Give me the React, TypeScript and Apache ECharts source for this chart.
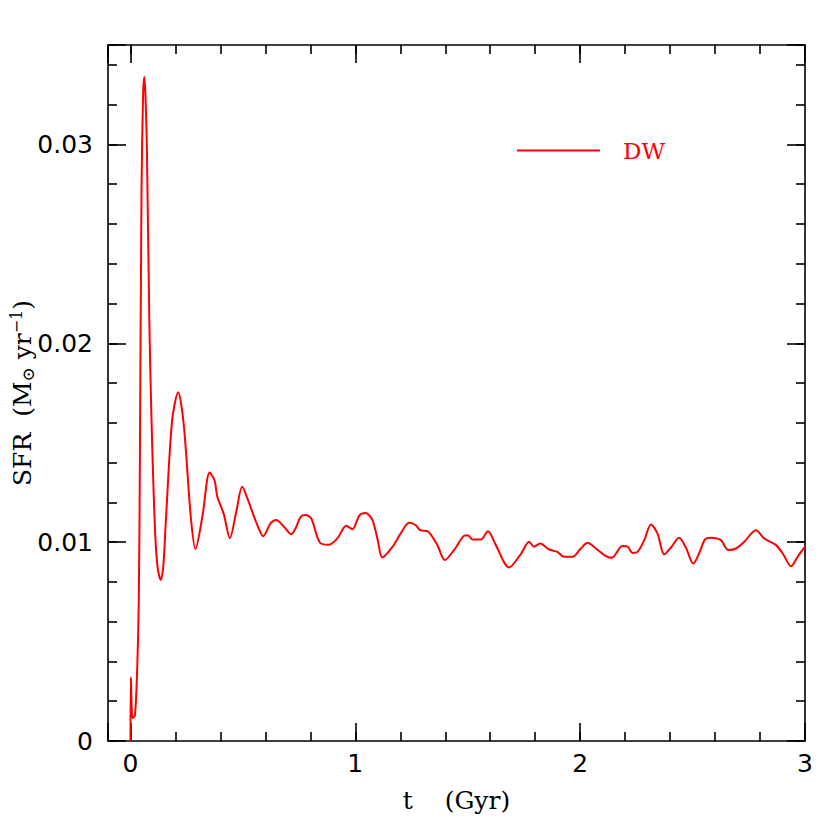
import React, { useEffect, useRef } from "react";
import * as echarts from "echarts";

// time (Gyr)
const timeGyr: number[] = [
  0, 0.002, 0.009, 0.02, 0.03, 0.037, 0.042, 0.049, 0.056, 0.062, 0.068, 0.073, 0.084, 0.095, 0.11, 0.122,
  0.135, 0.146, 0.157, 0.185, 0.212, 0.237, 0.268, 0.289, 0.32, 0.352, 0.374, 0.386, 0.415, 0.442, 0.47,
  0.497, 0.52, 0.549, 0.57, 0.59, 0.623, 0.648, 0.683, 0.715, 0.734, 0.757, 0.779, 0.804, 0.843, 0.883,
  0.92, 0.96, 0.987, 1.019, 1.046, 1.076, 1.1, 1.12, 1.165, 1.202, 1.239, 1.269, 1.288, 1.321, 1.365,
  1.398, 1.439, 1.481, 1.501, 1.521, 1.558, 1.59, 1.625, 1.684, 1.736, 1.773, 1.795, 1.822, 1.862, 1.899,
  1.929, 1.966, 2.003, 2.033, 2.07, 2.107, 2.14, 2.188, 2.211, 2.233, 2.255, 2.285, 2.315, 2.344, 2.374,
  2.404, 2.44, 2.47, 2.503, 2.529, 2.555, 2.582, 2.626, 2.659, 2.693, 2.73, 2.782, 2.819, 2.871, 2.901,
  2.938, 2.967, 3.0,
];

// star formation rate (Msun / yr)
const sfrDW: number[] = [
  0, 0.0032, 0.00114, 0.0013, 0.0037, 0.0071, 0.0144, 0.0276, 0.0325, 0.0334, 0.032, 0.0298, 0.021, 0.0155,
  0.0104, 0.0086, 0.0081, 0.0088, 0.011, 0.0161, 0.01754, 0.0159, 0.0113, 0.00965, 0.0113, 0.0135, 0.0131,
  0.0123, 0.0114, 0.0102, 0.0115, 0.01278, 0.0122, 0.0113, 0.0107, 0.0103, 0.01094, 0.01111, 0.01077,
  0.0104, 0.01069, 0.01127, 0.01136, 0.01119, 0.00997, 0.00987, 0.01019, 0.01082, 0.01065, 0.01136,
  0.01147, 0.01111, 0.0101, 0.00923, 0.00976, 0.01044, 0.01097, 0.01085, 0.0106, 0.01055, 0.00985,
  0.0091, 0.0096, 0.0103, 0.01035, 0.01013, 0.01013, 0.01055, 0.00985, 0.00872, 0.0094, 0.01002, 0.00977,
  0.00993, 0.00963, 0.00951, 0.00926, 0.00926, 0.00968, 0.00997, 0.00968, 0.00935, 0.00921, 0.0098,
  0.00977, 0.00946, 0.00951, 0.0101, 0.01089, 0.01043, 0.00938, 0.00973, 0.01022, 0.00973, 0.00892,
  0.00943, 0.01013, 0.01022, 0.0101, 0.0096, 0.00968, 0.01002, 0.0106, 0.01018, 0.00985, 0.00943,
  0.00879, 0.00926, 0.00977,
];

const seriesName = "DW";
const xName = "t    (Gyr)";

export default function App() {
  const ref = useRef<HTMLDivElement>(null);
  useEffect(() => {
    if (!ref.current) return;
    const chart = echarts.init(ref.current, undefined, { renderer: "svg" });
    const data = timeGyr.map((t, i) => [t, sfrDW[i]]);
    const black = "#000";
    const lineW = 1.6;
    const xBase = {
      type: "value" as const,
      min: -0.1,
      max: 3,
      splitLine: { show: false },
    };
    const yBase = {
      type: "value" as const,
      min: 0,
      max: 0.035,
      splitLine: { show: false },
    };
    const hiddenLine = { show: false, onZero: false };
    const numFont = { fontFamily: "DejaVu Sans", fontSize: 25, color: black };
    chart.setOption({
      animation: false,
      backgroundColor: "#fff",
      grid: {
        left: 108,
        top: 45,
        right: 25,
        bottom: 89,
        containLabel: false,
        outerBoundsMode: "none",
      },
      legend: {
        left: 512,
        top: 134,
        itemWidth: 83,
        itemHeight: 2,
        icon: "rect",
        data: [seriesName],
        textStyle: {
          color: "#ff0000",
          fontFamily: "DejaVu Serif",
          fontSize: 23,
          padding: [0, 0, 0, 18],
        },
      },
      xAxis: [
        {
          ...xBase,
          position: "bottom",
          splitNumber: 3,
          axisLine: { show: true, onZero: false, lineStyle: { color: black, width: lineW } },
          axisTick: { show: true, inside: true, length: 18, lineStyle: { color: black, width: lineW } },
          axisLabel: {
            ...numFont,
            margin: 10,
            formatter: (v: number) =>
              v >= 0 && Math.abs(v - Math.round(v)) < 1e-6 ? String(Math.round(v)) : "",
          },
          name: xName,
          nameLocation: "middle",
          nameGap: 47,
          nameMoveOverlap: false,
          nameTextStyle: { fontFamily: "DejaVu Serif", fontSize: 25, color: black },
        },
        {
          ...xBase,
          position: "bottom",
          splitNumber: 15,
          axisLine: hiddenLine,
          axisTick: { show: true, inside: true, length: 9, lineStyle: { color: black, width: lineW } },
          axisLabel: { show: false },
        },
        {
          ...xBase,
          position: "top",
          splitNumber: 3,
          axisLine: { show: true, onZero: false, lineStyle: { color: black, width: lineW } },
          axisTick: { show: true, inside: true, length: 18, lineStyle: { color: black, width: lineW } },
          axisLabel: { show: false },
        },
        {
          ...xBase,
          position: "top",
          splitNumber: 15,
          axisLine: hiddenLine,
          axisTick: { show: true, inside: true, length: 9, lineStyle: { color: black, width: lineW } },
          axisLabel: { show: false },
        },
      ],
      yAxis: [
        {
          ...yBase,
          position: "left",
          interval: 0.01,
          axisLine: { show: true, onZero: false, lineStyle: { color: black, width: lineW } },
          axisTick: { show: true, inside: true, length: 18, lineStyle: { color: black, width: lineW } },
          axisLabel: {
            ...numFont,
            margin: 15,
            formatter: (v: number) => {
              const k = Math.round(v / 0.01);
              if (Math.abs(v - k * 0.01) > 1e-9) return "";
              return k === 0 ? "0" : (k * 0.01).toFixed(2);
            },
          },
          name: "{a|SFR  (M}{sub|⊙}{a| yr}{sup|−1}{a|)}",
          nameLocation: "middle",
          nameGap: 72,
          nameMoveOverlap: false,
          nameTextStyle: {
            fontFamily: "DejaVu Serif",
            fontSize: 25,
            color: black,
            rich: {
              a: { fontFamily: "DejaVu Serif", fontSize: 25, color: black, lineHeight: 28 },
              sub: { fontFamily: "DejaVu Serif", fontSize: 17, color: black, verticalAlign: "bottom", lineHeight: 28 },
              sup: { fontFamily: "DejaVu Serif", fontSize: 16, color: black, verticalAlign: "top", lineHeight: 28 },
            },
          },
        },
        {
          ...yBase,
          position: "left",
          interval: 0.002,
          axisLine: hiddenLine,
          axisTick: { show: true, inside: true, length: 9, lineStyle: { color: black, width: lineW } },
          axisLabel: { show: false },
        },
        {
          ...yBase,
          position: "right",
          interval: 0.01,
          axisLine: { show: true, onZero: false, lineStyle: { color: black, width: lineW } },
          axisTick: { show: true, inside: true, length: 18, lineStyle: { color: black, width: lineW } },
          axisLabel: { show: false },
        },
        {
          ...yBase,
          position: "right",
          interval: 0.002,
          axisLine: hiddenLine,
          axisTick: { show: true, inside: true, length: 9, lineStyle: { color: black, width: lineW } },
          axisLabel: { show: false },
        },
      ],
      series: [
        {
          name: seriesName,
          type: "line",
          xAxisIndex: 0,
          yAxisIndex: 0,
          data,
          showSymbol: false,
          symbol: "none",
          smooth: 0.3,
          lineStyle: { color: "#ff0000", width: 2 },
          itemStyle: { color: "#ff0000" },
        },
      ],
    });
    return () => chart.dispose();
  }, []);
  return (
    <div
      ref={ref}
      style={{ position: "fixed", left: 0, top: 0, width: 830, height: 830, background: "#fff" }}
    />
  );
}
